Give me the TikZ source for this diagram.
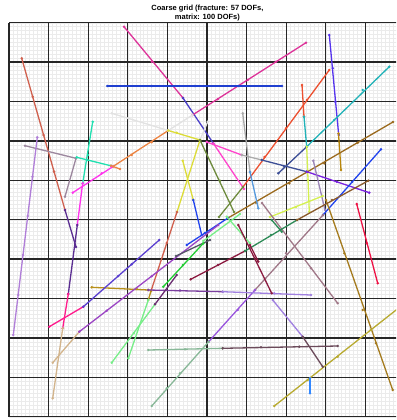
\documentclass[tikz,border=0pt]{standalone}
\usepackage{fontspec}
\setmainfont{Liberation Sans}
\definecolor{cPinkA}{HTML}{DD3399}
\definecolor{cBlueA}{HTML}{2040D0}
\definecolor{cIndRed}{HTML}{D0604E}
\definecolor{cSlate}{HTML}{4A3FC8}
\definecolor{cLav}{HTML}{B07ED8}
\definecolor{cMauveG}{HTML}{9C879E}
\definecolor{cTeal}{HTML}{20E0B0}
\definecolor{cMag}{HTML}{FF33EE}
\definecolor{cOrange}{HTML}{EC8442}
\definecolor{cLGray}{HTML}{E2E2E2}
\definecolor{cYellow}{HTML}{DCDC38}
\definecolor{cOlive}{HTML}{6E8B3D}
\definecolor{cTomato}{HTML}{EC5030}
\definecolor{cVioBlue}{HTML}{5533EE}
\definecolor{cCyan}{HTML}{20B2B8}
\definecolor{cDSB}{HTML}{3C4E96}
\definecolor{cGoldD}{HTML}{B8860B}
\definecolor{cBrown}{HTML}{9B6A1E}
\definecolor{cHotPink}{HTML}{FF44CC}
\definecolor{cGray}{HTML}{AAAAAA}
\definecolor{cSteel}{HTML}{5599DD}
\definecolor{cYG}{HTML}{D4F050}
\definecolor{cPurG}{HTML}{9B85B8}
\definecolor{cBV}{HTML}{7A22E0}
\definecolor{cBlue}{HTML}{2244EE}
\definecolor{cCrimson}{HTML}{EE1144}
\definecolor{cGoldL}{HTML}{A57B1E}
\definecolor{cRosy}{HTML}{A07888}
\definecolor{cAmeth}{HTML}{9955DD}
\definecolor{cMaroon}{HTML}{8B1A40}
\definecolor{cSea}{HTML}{2E8B57}
\definecolor{cDBrown}{HTML}{8B5A2B}
\definecolor{cLGreen}{HTML}{77EE88}
\definecolor{cGreen}{HTML}{22CC33}
\definecolor{cDSG}{HTML}{555566}
\definecolor{cIndigo}{HTML}{5A2D91}
\definecolor{cDPink}{HTML}{FF1A8C}
\definecolor{cTan}{HTML}{D2B48C}
\definecolor{cDGold}{HTML}{B8901A}
\definecolor{cPurple}{HTML}{7B3F9F}
\definecolor{cMPurple}{HTML}{A080E0}
\definecolor{cDSea}{HTML}{88B898}
\definecolor{cDMauve}{HTML}{6B4A5A}
\definecolor{cOlY}{HTML}{B8AA30}
\definecolor{cDodger}{HTML}{3388FF}
\definecolor{cBV2}{HTML}{5A3FD0}
\definecolor{cOrchid}{HTML}{9B45C4}
\definecolor{cDPurple}{HTML}{6A2C70}
\tikzset{
  finegrid/.style={draw=black!8,line width=0.3pt},
  coarsegrid/.style={draw=black!85,line width=1.3pt},
  fline/.style={line width=1.3pt},
  ttl/.style={font=\bfseries\fontsize{7.5}{9}\selectfont,anchor=base,inner sep=0pt}
}
\newcommand\Fseg[3]{\draw[fline,draw=#1] (#2) -- (#3); \fill[#1] (#2) circle (1.4pt); \fill[#1] (#3) circle (1.4pt);}
\newcommand\Fdot[2]{\fill[#1] (#2) circle (1.4pt);}
\begin{document}
\begin{tikzpicture}[x=1pt,y=-1pt]
\useasboundingbox (0,0) rectangle (396,420);
\fill[white] (0,0) rectangle (396,420);
\node[ttl] (t1) at (207.4,10.2) {Coarse grid (fracture: 57 DOFs,};
\node[ttl] (t2) at (207.4,19.2) {matrix: 100 DOFs)};
\begin{scope}
\clip (0,0) rectangle (396,420);
\foreach \i in {0,...,100}{
  \draw[finegrid] ({9+3.96*\i},22.7) -- ({9+3.96*\i},416.7);
  \draw[finegrid] (9,{22.7+3.94*\i}) -- (405,{22.7+3.94*\i});
}
\foreach \i in {0,...,10}{
  \draw[coarsegrid] ({9+39.6*\i},22.7) -- ({9+39.6*\i},416.7);
  \draw[coarsegrid] (9,{22.7+39.4*\i}) -- (405,{22.7+39.4*\i});
}
% F1
\Fseg{cPinkA}{124,26.7}{183,98} \Fdot{cPinkA}{151.7,61.7}
\Fseg{cSlate}{183,98}{213.3,143.3}
\Fseg{cHotPink}{213.3,143.3}{244,189}
% F2
\Fseg{cPinkA}{192.5,115}{306,42.7} \Fdot{cPinkA}{217.7,99.3} \Fdot{cPinkA}{247.7,80} \Fdot{cPinkA}{276,61.7}
% blue horizontal
\Fseg{cBlueA}{107.3,86}{282,86} \Fdot{cBlueA}{151.7,86} \Fdot{cBlueA}{195,86} \Fdot{cBlueA}{238.7,86}
% F4
\Fseg{cIndRed}{21.7,58.3}{65,210} \Fdot{cIndRed}{32.7,96.7} \Fdot{cIndRed}{43.6,135} \Fdot{cIndRed}{54.1,171.7}
\Fseg{cIndigo}{65,210}{76,247}
% F5
\Fseg{cTeal}{92.7,121.7}{82.7,183.3} \Fdot{cTeal}{87.9,155}
\Fseg{cMag}{82.7,183.3}{77.3,225}
\Fseg{cIndigo}{77.3,225}{68.3,294}
\Fseg{cDPink}{68.3,294}{62.7,328.3}
\Fseg{cTan}{62.7,328.3}{52.7,398.3}
% mauve gray
\Fseg{cMauveG}{25,145.7}{76,158.3}
\Fseg{cMauveG}{76,158.3}{65,196.7}
% lavender
\Fseg{cLav}{37.3,137.3}{13.3,335} \Fdot{cLav}{32.5,176.7} \Fdot{cLav}{27.7,216} \Fdot{cLav}{23,255} \Fdot{cLav}{18.2,295}
% teal horizontal
\Fseg{cTeal}{76.7,157.3}{111,165.8} \Fdot{cTeal}{87.3,160}
\Fseg{cOrange}{111,165.8}{120,169}
% F10
\Fseg{cMag}{72.7,192.7}{113,166.5} \Fdot{cMag}{101.7,173.3}
\Fseg{cOrange}{113,166.5}{168.3,130.5} \Fdot{cOrange}{131.7,155} \Fdot{cOrange}{151.7,142.3}
\Fseg{cLGray}{168.3,130.5}{192.5,115}
% F11
\Fseg{cLGray}{111.7,113.3}{168.3,130.5} \Fdot{cLGray}{128.3,118.3}
\Fseg{cYellow}{168.3,130.5}{200,140} \Fdot{cYellow}{176.7,132.7}
% F12
\Fseg{cLGray}{207.7,121.7}{200,140}
\Fseg{cYellow}{200,140}{177,212}
\Fseg{cIndRed}{177,212}{151,291} \Fdot{cIndRed}{166.7,243}
\Fseg{cDGold}{151,291}{148.3,300}
\Fseg{cLGreen}{148.3,300}{128.3,358.3}
% F13
\Fseg{cYellow}{182.7,160.7}{193.3,200}
\Fseg{cBlue}{193.3,200}{201.7,235}
% F14
\Fseg{cOlive}{200,140}{234,212} \Fdot{cOlive}{220,180.7}
% R
\Fseg{cTomato}{329.3,70}{243,187} \Fdot{cTomato}{307,100} \Fdot{cTomato}{286,128.3} \Fdot{cTomato}{264.5,157}
\Fseg{cOlive}{243,187}{219,217}
% violet blue vertical
\Fseg{cVioBlue}{329.3,35}{338.7,135} \Fdot{cVioBlue}{332.7,68.3} \Fdot{cVioBlue}{335.3,101.7}
\Fseg{cGoldD}{338.5,133.5}{341,170}
% cyan
\Fseg{cCyan}{389.3,66.7}{306.7,146.7} \Fdot{cCyan}{362.7,90} \Fdot{cCyan}{334.3,120}
\Fseg{cDSB}{306.7,146.7}{278.3,173.3}
% vertical polyline
\Fseg{cTomato}{302,85}{304,116.7}
\Fseg{cCyan}{304,116.7}{306.7,146.7}
\Fseg{cYG}{306.7,146.7}{309.3,211.7} \Fdot{cYG}{308,180}
% B2
\Fseg{cBrown}{393,122}{228,218} \Fdot{cBrown}{357.7,142.7} \Fdot{cBrown}{324.3,163.3} \Fdot{cBrown}{289.3,183.3} \Fdot{cBrown}{256,202.7}
\Fseg{cBlue}{228,218}{186.7,245} \Fdot{cBlue}{205,233}
% H1
\Fseg{cHotPink}{206.7,142}{241.7,155}
\Fseg{cGray}{241.7,155}{261.7,160}
\Fseg{cDSB}{261.7,160}{306.7,171.7} \Fdot{cDSB}{284.3,166.7}
\Fseg{cBV}{306.7,171.7}{369.3,192.7} \Fdot{cBV}{336.7,181.7}
% gray vertical
\Fseg{cGray}{242.7,113.3}{250,172}
\Fseg{cSteel}{250,172}{258.3,208.3}
% purple gray
\Fseg{cPurG}{313.3,160.7}{325,210}
% yellow green
\Fseg{cYG}{322.7,196}{270,217} \Fdot{cYG}{296,207}
% long blue -> rosy -> amethyst
\Fseg{cBlue}{381,149.3}{323,215} \Fdot{cBlue}{352,182}
\Fseg{cRosy}{323,215}{255,290} \Fdot{cRosy}{286,253.3}
\Fseg{cAmeth}{255,290}{208.7,341.7} \Fdot{cAmeth}{237.7,310}
% rosy X
\Fseg{cRosy}{262,203}{337.7,303.3} \Fdot{cRosy}{311,268.3}
% crimson
\Fseg{cCrimson}{356.7,204}{377.7,283.3} \Fdot{cCrimson}{366.7,243.3}
% gold long
\Fseg{cGoldL}{326,200}{392.7,390} \Fdot{cGoldL}{344.3,253.3} \Fdot{cGoldL}{362.7,310} \Fdot{cGoldL}{376,343.3}
% maroon-sea-brown
\Fseg{cMaroon}{190.7,279.3}{245,251} \Fdot{cMaroon}{218,265}
\Fseg{cSea}{245,251}{297,220} \Fdot{cSea}{271,235}
\Fseg{cDBrown}{297,220}{368.3,180.7} \Fdot{cDBrown}{332,200}
% F15
\Fseg{cDGold}{91.7,287.3}{148.3,290} \Fdot{cDGold}{136.7,289}
\Fseg{cPurple}{148.3,290}{222.7,291.7} \Fdot{cPurple}{180,290.5}
\Fseg{cMPurple}{222.7,291.7}{311,295} \Fdot{cMPurple}{274.3,293.3}
% deep pink / blue violet
\Fseg{cDPink}{49.3,326.7}{83.3,306.7}
\Fseg{cBV2}{83.3,306.7}{159.3,240} \Fdot{cBV2}{118.3,276} \Fdot{cBV2}{131.7,264.3}
% tan / orchid
\Fseg{cTan}{52.7,362.7}{79.3,331.7}
\Fseg{cOrchid}{79.3,331.7}{218.3,225} \Fdot{cOrchid}{106.7,310.7} \Fdot{cOrchid}{151.7,276.2}
% dark slate gray
\Fseg{cDSG}{176,256}{210,240}
% green
\Fseg{cGreen}{163.3,286.7}{203.3,243.3} \Fdot{cGreen}{183,265}
% light green / dark purple
\Fseg{cLGreen}{111.7,362.7}{155,304.3} \Fdot{cLGreen}{134,333}
\Fseg{cDPurple}{155,304.3}{176.7,275}
% light green near center
\Fseg{cLGreen}{203.3,241}{240,214}
\Fseg{cLGreen}{226.7,216.7}{250,243.3}
% maroon 2
\Fseg{cMaroon}{238.3,225}{271.7,293.3}
\Fseg{cMaroon}{250,245}{258.3,261.7}
\Fseg{cSea}{271.7,220}{281.7,231.7}
% bottom horizontal
\Fseg{cDSea}{148.3,350}{222.7,348.3} \Fdot{cDSea}{185,349.3}
\Fseg{cDMauve}{222.7,348.3}{337.7,346} \Fdot{cDMauve}{261,347.3} \Fdot{cDMauve}{299.3,346.7}
% dark sea diag
\Fseg{cDSea}{151.7,406}{208.7,341.7} \Fdot{cDSea}{166.7,388.3} \Fdot{cDSea}{180,373.3}
% olive yellow
\Fseg{cOlY}{274.3,406}{405,303} \Fdot{cOlY}{307.7,380} \Fdot{cOlY}{337.7,356.7} \Fdot{cOlY}{371,330}
% dodger
\Fseg{cDodger}{310,378.3}{310,393.3}
% purple to olive yellow
\Fseg{cMPurple}{272.7,300}{302.7,336.7}
\Fseg{cDMauve}{302.7,336.7}{322.7,366.7}
\end{scope}
\end{tikzpicture}
\end{document}
